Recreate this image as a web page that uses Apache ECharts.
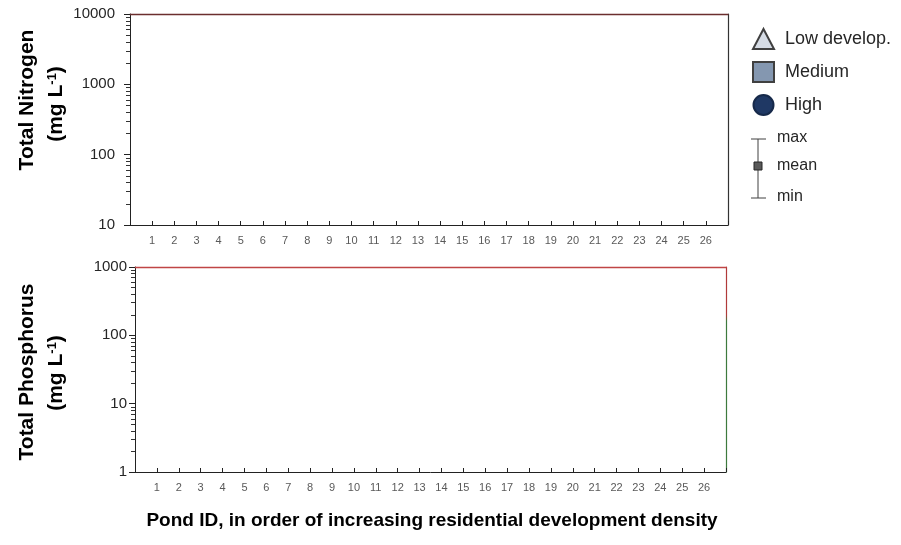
<!DOCTYPE html>
<html>
<head>
<meta charset="utf-8">
<script src="https://cdn.jsdelivr.net/npm/echarts@6/dist/echarts.min.js"></script>
<style>
  html, body { margin: 0; padding: 0; background: #fff; }
  #chart { width: 901px; height: 545px; }
</style>
</head>
<body>
<div id="chart"></div>
<script>
// Pond identifiers, ordered by residential development density
const pondIds = ['1','2','3','4','5','6','7','8','9','10','11','12','13','14','15','16','17','18','19','20','21','22','23','24','25','26'];

// Log-axis decade labels for each panel
const nitrogenTicks = [10, 100, 1000, 10000];
const phosphorusTicks = [1, 10, 100, 1000];

// Development-density groups (no observations plotted in this panel set)
const lowDevelop = [];
const mediumDevelop = [];
const highDevelop = [];

const FONT = 'Liberation Sans';

// minor ticks at 2..9 x each decade below the top label
function minorTicks(decades) {
  const out = [];
  for (let i = 0; i < decades.length - 1; i++) {
    for (let k = 2; k <= 9; k++) out.push(decades[i] * k);
  }
  return out;
}

const chart = echarts.init(document.getElementById('chart'));

function xBottom(gridIndex) {
  return {
    type: 'value', gridIndex: gridIndex, position: 'bottom',
    min: 0, max: pondIds.length + 1, interval: 1,
    splitLine: { show: false },
    axisLine: { show: true, lineStyle: { color: '#222', width: 1 } },
    axisTick: { show: true, inside: true, length: 4, lineStyle: { color: '#222' } },
    axisLabel: {
      margin: 10, fontSize: 11, color: '#595959', fontFamily: FONT,
      showMinLabel: true, showMaxLabel: true,
      formatter: function (v) { return (v >= 1 && v <= pondIds.length) ? pondIds[v - 1] : ''; }
    }
  };
}
function xTop(gridIndex, color) {
  return {
    type: 'value', gridIndex: gridIndex, position: 'top',
    min: 0, max: pondIds.length + 1,
    splitLine: { show: false },
    axisLine: { show: true, lineStyle: { color: color, width: 1.3 } },
    axisTick: { show: false }, axisLabel: { show: false }
  };
}
function yMain(gridIndex, ticks, margin) {
  return {
    type: 'log', logBase: 10, gridIndex: gridIndex, position: 'left',
    min: ticks[0], max: ticks[ticks.length - 1],
    splitLine: { show: false },
    axisLine: { show: true, onZero: false, lineStyle: { color: '#222', width: 1 } },
    axisTick: { show: true, length: 6, lineStyle: { color: '#222' } },
    axisLabel: { margin: margin, fontSize: 15, color: '#262626', fontFamily: FONT,
      formatter: function (v) { return String(Math.round(v)); } }
  };
}
function yMinor(gridIndex, ticks) {
  return {
    type: 'log', logBase: 10, gridIndex: gridIndex, position: 'left',
    min: ticks[0], max: ticks[ticks.length - 1],
    splitLine: { show: false },
    axisLine: { show: false },
    axisTick: { show: true, length: 4, customValues: minorTicks(ticks), lineStyle: { color: '#333' } },
    axisLabel: { show: false }
  };
}
function yRight(gridIndex, ticks, color) {
  return {
    type: 'log', logBase: 10, gridIndex: gridIndex, position: 'right',
    min: ticks[0], max: ticks[ticks.length - 1],
    splitLine: { show: false },
    axisLine: { show: true, onZero: false, lineStyle: { color: color, width: 1.2 } },
    axisTick: { show: false }, axisLabel: { show: false }
  };
}

const rightLower = new echarts.graphic.LinearGradient(0, 0, 0, 1, [
  { offset: 0, color: '#b03a3a' }, { offset: 0.24, color: '#b03a3a' },
  { offset: 0.27, color: '#3d7a3d' }, { offset: 1, color: '#3d7a3d' }
]);

const titleFont = 'bold 21px ' + FONT;
const supStyle = { fontSize: 13, fontWeight: 'bold', fontFamily: FONT, verticalAlign: 'top', fill: '#000' };

const option = {
  animation: false,
  backgroundColor: '#ffffff',
  grid: [
    { left: 130, top: 14, width: 598, height: 211 },
    { left: 135, top: 267, width: 591, height: 205 }
  ],
  xAxis: [ xBottom(0), xTop(0, '#6b2e2e'), xBottom(1), xTop(1, '#c04545') ],
  yAxis: [
    yMain(0, nitrogenTicks, 15), yMinor(0, nitrogenTicks), yRight(0, nitrogenTicks, '#333'),
    yMain(1, phosphorusTicks, 8), yMinor(1, phosphorusTicks), yRight(1, phosphorusTicks, rightLower)
  ],
  legend: {
    orient: 'vertical', left: 747, top: 23,
    itemWidth: 21, itemHeight: 20, itemGap: 11,
    textStyle: { fontFamily: FONT, fontSize: 18, color: '#262626', padding: [0, 0, 0, 6] },
    data: [
      { name: 'Low develop.', icon: 'triangle' },
      { name: 'Medium', icon: 'rect' },
      { name: 'High', icon: 'circle' }
    ]
  },
  series: [
    { name: 'Low develop.', type: 'scatter', xAxisIndex: 0, yAxisIndex: 0, data: lowDevelop,
      symbol: 'triangle', itemStyle: { color: '#d6dce5', borderColor: '#404040', borderWidth: 1, opacity: 1 } },
    { name: 'Medium', type: 'scatter', xAxisIndex: 0, yAxisIndex: 0, data: mediumDevelop,
      symbol: 'rect', itemStyle: { color: '#8497b0', borderColor: '#404040', borderWidth: 1, opacity: 1 } },
    { name: 'High', type: 'scatter', xAxisIndex: 0, yAxisIndex: 0, data: highDevelop,
      symbol: 'circle', itemStyle: { color: '#1f3864', borderColor: '#16294a', borderWidth: 1, opacity: 1 } }
  ],
  graphic: [
    // y-axis titles
    { type: 'text', x: 27, y: 100, rotation: Math.PI / 2,
      style: { text: 'Total Nitrogen', font: titleFont, fill: '#000', align: 'center', verticalAlign: 'middle' } },
    { type: 'text', x: 56, y: 104, rotation: Math.PI / 2,
      style: { text: '(mg L{sup|-1})', font: titleFont, fill: '#000', align: 'center', verticalAlign: 'middle',
        rich: { sup: supStyle } } },
    { type: 'text', x: 27, y: 372, rotation: Math.PI / 2,
      style: { text: 'Total Phosphorus', font: titleFont, fill: '#000', align: 'center', verticalAlign: 'middle' } },
    { type: 'text', x: 56, y: 373, rotation: Math.PI / 2,
      style: { text: '(mg L{sup|-1})', font: titleFont, fill: '#000', align: 'center', verticalAlign: 'middle',
        rich: { sup: supStyle } } },
    // x-axis title
    { type: 'text', x: 432, y: 521,
      style: { text: 'Pond ID, in order of increasing residential development density', font: 'bold 19px ' + FONT,
        fill: '#000', align: 'center', verticalAlign: 'middle' } },
    // range key: max / mean / min
    { type: 'line', shape: { x1: 758, y1: 139, x2: 758, y2: 198 }, style: { stroke: '#404040', lineWidth: 1 } },
    { type: 'line', shape: { x1: 751, y1: 139, x2: 766, y2: 139 }, style: { stroke: '#404040', lineWidth: 1 } },
    { type: 'line', shape: { x1: 751, y1: 198, x2: 766, y2: 198 }, style: { stroke: '#404040', lineWidth: 1 } },
    { type: 'rect', shape: { x: 754, y: 162, width: 8, height: 8 }, style: { fill: '#595959', stroke: '#262626', lineWidth: 1 } },
    { type: 'text', x: 777, y: 138, style: { text: 'max', font: '16px ' + FONT, fill: '#262626', verticalAlign: 'middle' } },
    { type: 'text', x: 777, y: 166, style: { text: 'mean', font: '16px ' + FONT, fill: '#262626', verticalAlign: 'middle' } },
    { type: 'text', x: 777, y: 197, style: { text: 'min', font: '16px ' + FONT, fill: '#262626', verticalAlign: 'middle' } }
  ]
};

chart.setOption(option);
</script>
</body>
</html>
